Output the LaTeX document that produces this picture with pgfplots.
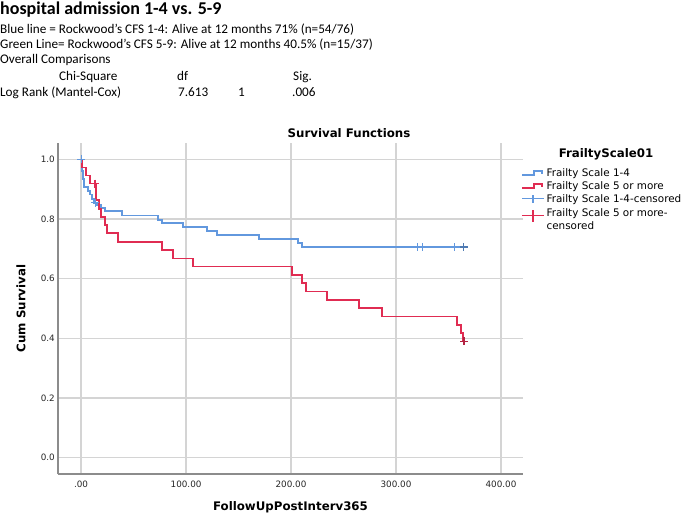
\documentclass[border=0pt]{standalone}
\usepackage{fontspec}
\setmainfont{Carlito}
\newfontfamily\chartfont{DejaVu Sans}
\usepackage{pgfplots}
\pgfplotsset{compat=1.18}
\definecolor{kmblue}{RGB}{98,152,222}
\definecolor{kmred}{RGB}{224,44,82}
\definecolor{gridgray}{RGB}{212,212,212}
\definecolor{spinegray}{RGB}{140,140,140}
\pgfplotsset{
  blueStep/.style={legend image code/.code={\draw[kmblue, line width=1.6pt] (0pt,-2pt) -- (12pt,-2pt) -- (12pt,2pt) -- (20pt,2pt) -- (20pt,-1pt);}},
  redStep/.style={legend image code/.code={\draw[kmred, line width=1.6pt] (0pt,-2pt) -- (12pt,-2pt) -- (12pt,2pt) -- (20pt,2pt) -- (20pt,-1pt);}},
  blueCens/.style={legend image code/.code={\draw[kmblue, line width=1.1pt] (0pt,0pt) -- (22pt,0pt); \draw[kmblue, line width=1.1pt] (11pt,-4pt) -- (11pt,4pt);}},
  redCens/.style={legend image code/.code={\draw[kmred, line width=1.1pt] (0pt,0pt) -- (22pt,0pt); \draw[kmred, line width=1.1pt] (11pt,-6pt) -- (11pt,6pt);}},
}
\begin{document}
\begin{tikzpicture}
\useasboundingbox (0pt,0pt) rectangle (685pt,-516pt);
\node[anchor=base west, inner sep=0pt, font=\fontsize{18}{20}\selectfont\bfseries] at (0pt,-15pt) {hospital admission 1-4 vs. 5-9};
\node[anchor=base west, inner sep=0pt, font=\fontsize{13.2}{15}\selectfont] at (0pt,-34pt) {Blue line = Rockwood’s CFS 1-4: Alive at 12 months 71\% (n=54/76)};
\node[anchor=base west, inner sep=0pt, font=\fontsize{13.2}{15}\selectfont] at (0pt,-49pt) {Green Line= Rockwood’s CFS 5-9: Alive at 12 months 40.5\% (n=15/37)};
\node[anchor=base west, inner sep=0pt, font=\fontsize{13.2}{15}\selectfont] at (0pt,-64pt) {Overall Comparisons};
\node[anchor=base west, inner sep=0pt, font=\fontsize{13.2}{15}\selectfont] at (59pt,-81pt) {Chi-Square};
\node[anchor=base west, inner sep=0pt, font=\fontsize{13.2}{15}\selectfont] at (177pt,-81pt) {df};
\node[anchor=base west, inner sep=0pt, font=\fontsize{13.2}{15}\selectfont] at (293pt,-81pt) {Sig.};
\node[anchor=base west, inner sep=0pt, font=\fontsize{13.2}{15}\selectfont] at (0pt,-97pt) {Log Rank (Mantel-Cox)};
\node[anchor=base west, inner sep=0pt, font=\fontsize{13.2}{15}\selectfont] at (178pt,-97pt) {7.613};
\node[anchor=base west, inner sep=0pt, font=\fontsize{13.2}{15}\selectfont] at (238pt,-97pt) {1};
\node[anchor=base west, inner sep=0pt, font=\fontsize{13.2}{15}\selectfont] at (292pt,-97pt) {.006};
\node[anchor=center, inner sep=0pt, font=\chartfont\fontsize{11.8}{13}\selectfont\bfseries] at (606pt,-154pt) {FrailtyScale01};
\node[anchor=center, inner sep=0pt, font=\chartfont\fontsize{11.8}{13}\selectfont\bfseries] at (349pt,-133pt) {Survival Functions};
\begin{axis}[
  at={(58pt,-474pt)}, anchor=south west,
  scale only axis, width=465pt, height=331pt,
  xmin=-22, xmax=421, ymin=-0.055, ymax=1.055,
  axis lines*=left,
  axis line style={spinegray, line width=1.2pt},
  grid=major, major grid style={gridgray, line width=1.2pt},
  major tick length=0pt,
  xtick={0,100,200,300,400}, xticklabels={.00,100.00,200.00,300.00,400.00},
  ytick={0,0.2,0.4,0.6,0.8,1.0}, yticklabels={0.0,0.2,0.4,0.6,0.8,1.0},
  tick label style={font=\chartfont\fontsize{8.8}{10}\selectfont, text=black!85},
  xticklabel style={anchor=north, inner sep=0pt, yshift=-7pt},
  yticklabel style={anchor=east, inner sep=0pt, xshift=-3pt},
  xlabel={FollowUpPostInterv365},
  ylabel={Cum Survival},
  label style={font=\chartfont\fontsize{11.8}{13}\selectfont\bfseries},
  xlabel style={at={(axis description cs:0.5,0)}, anchor=center, yshift=-33pt},
  ylabel style={at={(axis description cs:0,0.5)}, anchor=center, yshift=37pt},
  legend style={at={(axis description cs:0.9957,0.9245)}, anchor=north west, draw=none, fill=none,
    font=\chartfont\fontsize{10.4}{13}\selectfont, inner sep=0pt, row sep=3.6pt,
    nodes={inner sep=0pt}, column sep=2pt},
  legend cell align=left,
]
\addplot[const plot, color=kmblue, line width=1.8pt, forget plot] coordinates {
(0,1.0) (0.5,0.987) (1,0.961) (2,0.934) (2.5,0.908) (6.7,0.895) (8.6,0.882) (10.2,0.868)
(12,0.855) (15.2,0.846) (19.3,0.838) (22.5,0.826) (39,0.812) (73,0.798) (77,0.788)
(97,0.773) (120,0.759) (129.8,0.746) (169.8,0.732) (206.3,0.720) (210.8,0.706) (364.5,0.706)
};
\addplot[const plot, color=kmred, line width=1.8pt, forget plot] coordinates {
(0,1.0) (0.5,0.973) (4.5,0.946) (8.5,0.919) (14,0.891) (14.5,0.863) (16.8,0.835) (18.8,0.807)
(22.9,0.780) (24.4,0.752) (35.5,0.724) (76.8,0.697) (87.9,0.668) (106.4,0.641) (200.6,0.613)
(210.8,0.585) (214.3,0.557) (234,0.529) (265,0.501) (287,0.473) (357.8,0.446) (362,0.418)
(364,0.390) (365,0.390)
};
\addplot[only marks, mark=+, mark size=4pt, color=kmblue, line width=1.1pt, forget plot] coordinates {
(0,1.0) (13.3,0.855) (320.6,0.706) (325.4,0.706) (355.6,0.706)
};
\addplot[only marks, mark=+, mark size=4pt, color=kmblue!80!black, line width=1.4pt, forget plot] coordinates {
(364.5,0.706)
};
\addplot[only marks, mark=+, mark size=4pt, color=kmred, line width=1.2pt, forget plot] coordinates {
(13.3,0.919)
};
\addplot[only marks, mark=+, mark size=4pt, color=kmred!80!black, line width=1.6pt, forget plot] coordinates {
(365,0.390)
};
\addlegendimage{blueStep}
\addlegendentry{Frailty Scale 1-4}
\addlegendimage{redStep}
\addlegendentry{Frailty Scale 5 or more}
\addlegendimage{blueCens}
\addlegendentry{Frailty Scale 1-4-censored}
\addlegendimage{redCens}
\addlegendentry{\begin{tabular}{@{}l@{}}Frailty Scale 5 or more-\\censored\end{tabular}}
\end{axis}
\end{tikzpicture}
\end{document}
